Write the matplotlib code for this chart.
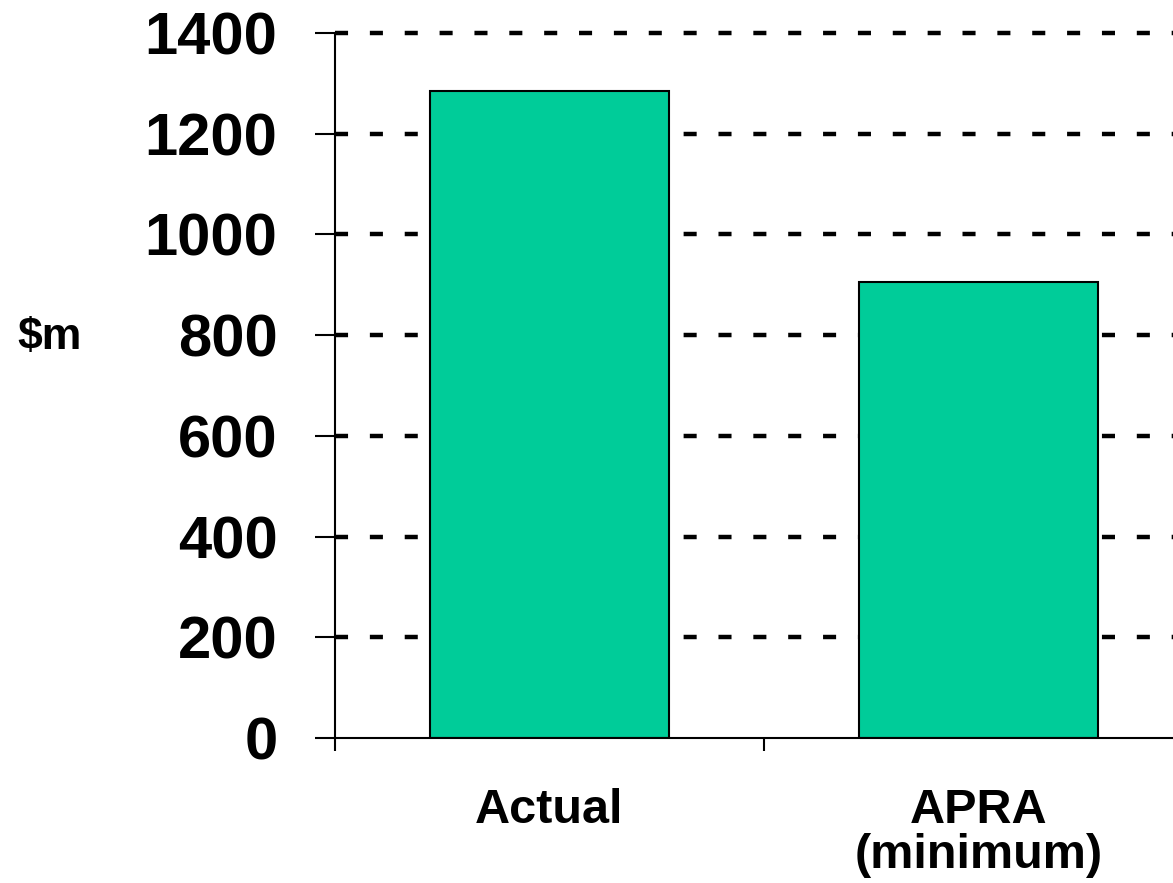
import matplotlib
matplotlib.use("Agg")
import matplotlib.pyplot as plt

# Capital held vs regulatory minimum ($m)
categories = ["Actual", "APRA\n(minimum)"]
values = [1285, 905]
y_ticks = [0, 200, 400, 600, 800, 1000, 1200, 1400]

plt.rcParams['font.family'] = ['Liberation Sans', 'DejaVu Sans']
plt.rcParams['font.weight'] = 'bold'
plt.rcParams['lines.scale_dashes'] = False

fig = plt.figure(figsize=(11.73, 8.83), dpi=100)
ax = fig.add_axes([335 / 1173, 145 / 883, 858 / 1173, 705 / 883])

positions = [0.5, 1.5]
ax.bar(positions, values, width=0.555, color='#00CC99', edgecolor='black',
       linewidth=1.5, zorder=2)

ax.set_xlim(0, 2)
ax.set_ylim(0, 1400)
ax.set_yticks(y_ticks)
ax.set_yticklabels([str(v) for v in y_ticks], fontsize=43, fontweight='bold')

# major x ticks mark the category boundaries, minor ticks carry the labels
ax.set_xticks([0, 1, 2])
ax.set_xticklabels([])
ax.set_xticks(positions, minor=True)
ax.set_xticklabels(categories, minor=True, fontsize=35, fontweight='bold',
                   linespacing=1.0)
ax.tick_params(axis='x', which='minor', length=0, pad=36)
ax.tick_params(axis='x', which='major', direction='out', length=9, width=1.5)
ax.tick_params(axis='y', direction='out', length=14.4, width=1.5, pad=27)

ax.yaxis.grid(True, color='black', linewidth=3.2, linestyle=(0, (9.4, 15.7)))
ax.set_axisbelow(True)
gridlines = ax.get_ygridlines()
for gl in gridlines:
    gl.set_clip_on(False)
gridlines[0].set_visible(False)  # the x axis sits on zero

for side in ['top', 'right']:
    ax.spines[side].set_visible(False)
for side in ['left', 'bottom']:
    ax.spines[side].set_linewidth(1.5)

fig.text(50 / 1173, 1 - 338 / 883, '$m', fontsize=32, fontweight='bold',
         ha='center', va='center')

plt.savefig('out.png', dpi=100)
